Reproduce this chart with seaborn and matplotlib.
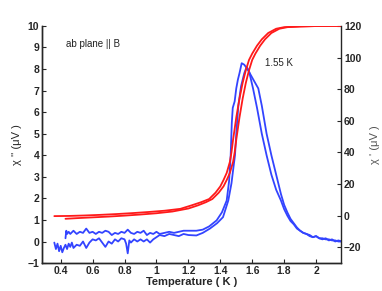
import numpy as np
import pandas as pd
import matplotlib
matplotlib.use("Agg")
import matplotlib.pyplot as plt
from matplotlib.ticker import FuncFormatter
import seaborn as sns

# chi'' (left axis), two sweeps
# sweep with the ~0.4 baseline (wider peak)
t_imag_1 = [0.43, 0.435, 0.44, 0.45, 0.46, 0.48, 0.50, 0.52, 0.54, 0.56, 0.58, 0.60, 0.62,
            0.64, 0.66, 0.68, 0.70, 0.72, 0.74, 0.76, 0.78, 0.80, 0.82, 0.84, 0.86, 0.88,
            0.90, 0.92, 0.94, 0.96, 0.98, 1.00, 1.02, 1.05, 1.08, 1.11, 1.14, 1.17, 1.21,
            1.25, 1.29, 1.33, 1.377, 1.41, 1.44, 1.455, 1.465, 1.472, 1.478, 1.49, 1.50,
            1.51, 1.52, 1.534, 1.55, 1.57, 1.60, 1.638, 1.66, 1.69, 1.72, 1.75, 1.78, 1.80,
            1.82, 1.84, 1.86, 1.88, 1.90, 1.92, 1.94, 1.96, 1.98, 2.00, 2.02, 2.04, 2.06,
            2.08, 2.10, 2.12, 2.14, 2.16]
v_imag_1 = [0.15, 0.50, 0.35, 0.45, 0.35, 0.50, 0.35, 0.45, 0.40, 0.60, 0.40, 0.45, 0.35,
            0.45, 0.40, 0.50, 0.45, 0.30, 0.40, 0.35, 0.45, 0.40, 0.55, 0.40, 0.35, 0.45,
            0.40, 0.50, 0.30, 0.40, 0.35, 0.45, 0.35, 0.40, 0.45, 0.40, 0.45, 0.50, 0.50,
            0.50, 0.55, 0.70, 0.98, 1.35, 1.90, 2.80, 4.00, 5.50, 6.20, 6.50, 7.10,
            7.50, 7.80, 8.27, 8.20, 8.00, 7.60, 7.10, 6.30, 5.00, 4.00, 3.10, 2.20, 1.70,
            1.35, 1.05, 0.85, 0.65, 0.50, 0.40, 0.35, 0.30, 0.20, 0.25, 0.15, 0.15, 0.10,
            0.10, 0.05, 0.05, 0.00, 0.00]

# sweep with the ~0 baseline (narrower peak)
t_imag_2 = [0.36, 0.37, 0.38, 0.39, 0.40, 0.41, 0.42, 0.43, 0.44, 0.45, 0.46, 0.47, 0.48,
            0.50, 0.52, 0.54, 0.56, 0.58, 0.60, 0.62, 0.64, 0.66, 0.68, 0.70, 0.72, 0.74,
            0.76, 0.78, 0.80, 0.81, 0.82, 0.83, 0.84, 0.86, 0.88, 0.90, 0.92, 0.94, 0.96,
            0.98, 1.00, 1.02, 1.05, 1.08, 1.11, 1.14, 1.17, 1.20, 1.25, 1.29, 1.335, 1.38,
            1.417, 1.45, 1.47, 1.48, 1.492, 1.50, 1.513, 1.53, 1.55, 1.565, 1.58, 1.605,
            1.63, 1.66, 1.69, 1.72, 1.75, 1.78, 1.80, 1.82, 1.84, 1.86, 1.88, 1.90, 1.92,
            1.94, 1.96, 1.98, 2.00, 2.02, 2.04, 2.06, 2.08, 2.10, 2.12, 2.14, 2.16]
v_imag_2 = [-0.05, -0.35, -0.10, -0.45, -0.20, -0.50, -0.30, -0.15, -0.35, -0.10, -0.25, -0.05, -0.30,
            -0.15, -0.20, 0.00, -0.30, -0.05, 0.10, 0.05, 0.15, -0.05, -0.25, 0.00, -0.10, 0.10,
            0.00, 0.15, 0.10, -0.10, -0.55, 0.05, -0.05, 0.10, 0.00, 0.10, 0.00, 0.10, -0.05,
            0.10, 0.20, 0.30, 0.25, 0.35, 0.30, 0.25, 0.35, 0.30, 0.28, 0.40, 0.60, 0.85,
            1.13, 1.90, 2.70, 3.30, 4.00, 5.00, 6.30, 7.20, 7.80, 8.10, 7.90, 7.10,
            6.20, 5.00, 4.00, 3.10, 2.40, 1.90, 1.50, 1.20, 0.95, 0.80, 0.60, 0.50, 0.40,
            0.35, 0.25, 0.20, 0.25, 0.15, 0.10, 0.15, 0.05, 0.10, 0.00, 0.05, 0.00]

# chi' (right axis), two sweeps
t_real_1 = [0.36, 0.45, 0.55, 0.65, 0.75, 0.85, 0.95, 1.05, 1.15, 1.22, 1.28, 1.33, 1.37,
            1.40, 1.42, 1.44, 1.46, 1.47, 1.48, 1.50, 1.52, 1.54, 1.56, 1.58, 1.60, 1.63,
            1.66, 1.70, 1.75, 1.80, 1.90, 2.00, 2.16]
v_real_1 = [-0.3, -0.2, 0.1, 0.5, 1.0, 1.6, 2.3, 3.1, 4.3, 6.5, 8.5, 10.5, 14.5,
            18.5, 22.5, 27.0, 34.0, 40.0, 48.0, 62.0, 74.0, 84.0, 92.0, 98.5, 102.5, 107.5,
            111.5, 115.5, 118.2, 119.2, 119.7, 119.9, 120.0]

t_real_2 = [0.43, 0.50, 0.60, 0.70, 0.80, 0.90, 1.00, 1.10, 1.20, 1.26, 1.31, 1.35, 1.39,
            1.42, 1.44, 1.46, 1.48, 1.49, 1.50, 1.52, 1.54, 1.56, 1.58, 1.60, 1.62, 1.65,
            1.68, 1.72, 1.77, 1.82, 1.90, 2.00, 2.16]
v_real_2 = [-2.0, -1.6, -1.1, -0.6, 0.0, 0.7, 1.5, 2.6, 4.5, 6.5, 8.5, 10.5, 14.5,
            18.5, 22.5, 27.0, 34.0, 40.0, 48.0, 62.0, 74.0, 84.0, 92.0, 98.5, 102.5, 107.5,
            111.5, 115.5, 118.2, 119.2, 119.6, 119.9, 120.0]

sns.set_style("ticks")
plt.rcParams['font.family'] = ['Liberation Sans', 'DejaVu Sans']

blue = "#3344ff"
red = "#ff1a1a"

fig = plt.figure(figsize=(3.82, 2.91), dpi=100)
ax = fig.add_axes([0.110, 0.096, 0.783, 0.815])
ax2 = ax.twinx()

for t, v in [(t_imag_1, v_imag_1), (t_imag_2, v_imag_2)]:
    df = pd.DataFrame({"T": t, "v": v})
    sns.lineplot(data=df, x="T", y="v", ax=ax, color=blue, lw=1.3,
                 sort=False, estimator=None)
for t, v in [(t_real_1, v_real_1), (t_real_2, v_real_2)]:
    df = pd.DataFrame({"T": t, "v": v})
    sns.lineplot(data=df, x="T", y="v", ax=ax2, color=red, lw=1.3,
                 sort=False, estimator=None)

ax.set_xlim(0.283, 2.157)
ax.set_ylim(-1, 10)
ax2.set_ylim(-30, 120)
ax.set_xticks(np.arange(0.4, 2.01, 0.2))
ax.set_yticks(range(-1, 11))
ax2.set_yticks(range(-20, 121, 20))
ax.xaxis.set_major_formatter(FuncFormatter(lambda x, p: f"{x:g}"))

for a in (ax, ax2):
    a.tick_params(direction="in", length=3, width=0.8, labelsize=7.5, pad=2)
    for lab in a.get_xticklabels() + a.get_yticklabels():
        lab.set_fontweight("bold")
    for s in a.spines.values():
        s.set_linewidth(1.0)
    a.spines["top"].set_visible(False)
ax.spines["right"].set_visible(False)

ax.set_xlabel("Temperature ( K )", fontsize=8, fontweight="bold", labelpad=1)
ax.set_ylabel("χ '' (μV )", fontsize=8, labelpad=4)
ax2.set_ylabel("χ ' (μV )", fontsize=8, rotation=90, labelpad=6, color="#555555")

ax.text(0.433, 9.16, "ab plane || B", fontsize=7, va="center", ha="left", color="#222222")
ax.text(1.68, 8.28, "1.55 K", fontsize=7, va="center", ha="left", color="#222222")

fig.savefig("out.png", dpi=100)
